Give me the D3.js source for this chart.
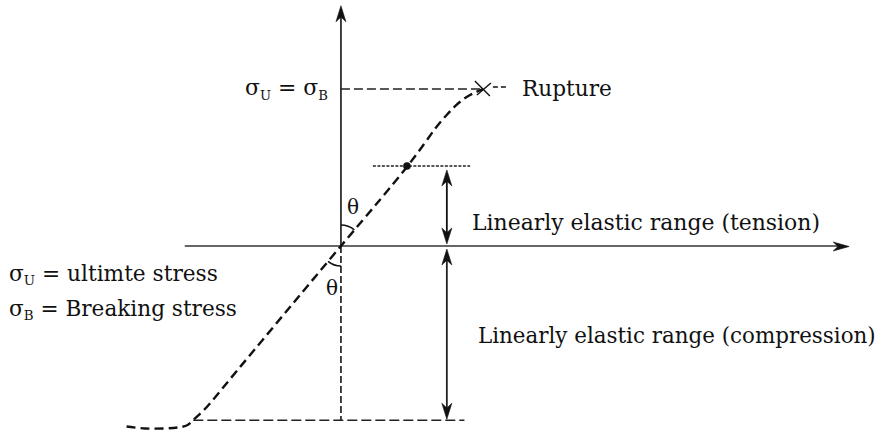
<!DOCTYPE html>
<html><head><meta charset="utf-8">
<script src="https://cdn.jsdelivr.net/npm/d3@7"></script>
<style>html,body{margin:0;padding:0;background:#fff;} svg{display:block}</style>
</head><body><svg id="c" width="884" height="432"></svg>
<script>
// ---- data (stress-strain diagram, arbitrary units: ultimate stress = 100, rupture strain = 100)
const strain = [-151, -138, -124, -115, -108, -103, -96, -71, -36, 0, 28, 47, 59, 67, 74, 81, 88, 95, 100];
const stress = [-115, -116.2, -116.2, -115.6, -114, -110, -104, -77, -39, 0, 30, 51, 65.5, 75.5, 83, 89.5, 94.6, 98, 100];
const ultimateStress = 100;
const ruptureStrain = 100;
const tensionLimit = 51;
const tensionLimitStrain = 46.5;
const compressionLimit = -111;
const strainAxisExtent = [-110, 358];
const stressAxisExtent = [-111, 153];
const tensionGuide = [22.5, 91];
const compressionGuide = [-104, 87];
const rangeArrowStrain = 74.6;
const axisLabels = ["\u03C3", "U", "B"];
const annotationTexts = ["Rupture", "Linearly elastic range (tension)", "Linearly elastic range (compression)"];
const legendTexts = [" = ultimte stress", " = Breaking stress"];
const angleLabel = "\u03B8";

const svg = d3.select("#c");
const x = d3.scaleLinear().domain([-150, 360]).range([128, 852]);
const y = d3.scaleLinear().domain([-120, 152]).range([434.4, 7.36]);
const ink = "#111";
const FONT = "DejaVu Serif";

function arrowHead(tx, ty, dx, dy, len, hw) {
  const n = Math.hypot(dx, dy); dx /= n; dy /= n;
  const bx = tx - dx * len, by = ty - dy * len;
  const px = -dy, py = dx;
  const p = d3.path();
  p.moveTo(tx, ty);
  p.lineTo(bx + px * hw, by + py * hw);
  p.lineTo(tx - dx * len * 0.7, ty - dy * len * 0.7);
  p.lineTo(bx - px * hw, by - py * hw);
  p.closePath();
  svg.append("path").attr("d", p.toString()).attr("fill", ink).attr("stroke", ink).attr("stroke-width", 0.6);
}

// ---- axes
const x0 = x(0), y0 = y(0);
svg.append("line").attr("x1", x0).attr("x2", x0).attr("y1", y0).attr("y2", y(stressAxisExtent[1]) + 6)
  .attr("stroke", "#222").attr("stroke-width", 1.7);
arrowHead(x0, y(stressAxisExtent[1]), 0, -1, 16, 5);
svg.append("line").attr("x1", x0).attr("x2", x0).attr("y1", y0).attr("y2", y(compressionLimit))
  .attr("stroke", "#222").attr("stroke-width", 1.7).attr("stroke-dasharray", "7,3");
svg.append("line").attr("x1", x(strainAxisExtent[0])).attr("x2", x(strainAxisExtent[1]) - 6).attr("y1", y0).attr("y2", y0)
  .attr("stroke", "#333").attr("stroke-width", 1.5);
arrowHead(x(strainAxisExtent[1]), y0 + 0.5, 1, 0, 16, 4.5);

// ---- guide lines
svg.append("line").attr("x1", x0).attr("x2", x(ruptureStrain)).attr("y1", y(ultimateStress)).attr("y2", y(ultimateStress))
  .attr("stroke", "#222").attr("stroke-width", 1.3).attr("stroke-dasharray", "9,4");
svg.append("line").attr("x1", x(tensionGuide[0])).attr("x2", x(tensionGuide[1])).attr("y1", y(tensionLimit)).attr("y2", y(tensionLimit))
  .attr("stroke", "#222").attr("stroke-width", 1.6).attr("stroke-dasharray", "3,1.5");
svg.append("line").attr("x1", x(compressionGuide[0])).attr("x2", x(compressionGuide[1])).attr("y1", y(compressionLimit)).attr("y2", y(compressionLimit))
  .attr("stroke", "#222").attr("stroke-width", 1.4).attr("stroke-dasharray", "10,4");

// ---- curve
const line = d3.line().x((d, i) => x(strain[i])).y((d, i) => y(stress[i])).curve(d3.curveCatmullRom.alpha(0.5));
svg.append("path").datum(strain).attr("d", line).attr("fill", "none").attr("stroke", ink)
  .attr("stroke-width", 2.4).attr("stroke-dasharray", "9,5");

// rupture cross and leader
const rx = x(ruptureStrain), ry = y(ultimateStress);
svg.append("path").attr("d", `M${rx-8},${ry-8}L${rx+7},${ry+7}M${rx-6},${ry+6}L${rx+8},${ry-6}`)
  .attr("stroke", ink).attr("stroke-width", 1.4).attr("fill", "none");
svg.append("line").attr("x1", rx + 10).attr("x2", rx + 26).attr("y1", ry - 2).attr("y2", ry - 2)
  .attr("stroke", ink).attr("stroke-width", 1.3).attr("stroke-dasharray", "5,3");

// proportional limit dot
svg.append("circle").attr("cx", x(tensionLimitStrain)).attr("cy", y(tensionLimit)).attr("r", 3.8).attr("fill", ink);

// ---- range arrows
const ax = x(rangeArrowStrain);
svg.append("line").attr("x1", ax).attr("x2", ax).attr("y1", y(tensionLimit) + 12).attr("y2", y0 - 12)
  .attr("stroke", ink).attr("stroke-width", 1.8);
arrowHead(ax, y(tensionLimit) + 4, 0, -1, 16, 5);
arrowHead(ax, y0 - 2, 0, 1, 16, 5);
svg.append("line").attr("x1", ax).attr("x2", ax).attr("y1", y0 + 12).attr("y2", y(compressionLimit) - 12)
  .attr("stroke", "#222").attr("stroke-width", 1.8);
arrowHead(ax, y0 + 3, 0, -1, 16, 5);
arrowHead(ax, y(compressionLimit) - 1, 0, 1, 16, 5);

// ---- angle arcs
const upAng = Math.atan2(x(tensionLimitStrain) - x0, y0 - y(tensionLimit));
const dnAng = Math.PI + Math.atan2(x0 - x(strain[7]), y(stress[7]) - y0);
const arcU = d3.arc().innerRadius(21).outerRadius(21).startAngle(0).endAngle(upAng);
const arcD = d3.arc().innerRadius(20).outerRadius(20).startAngle(Math.PI).endAngle(dnAng);
svg.append("path").attr("d", arcU()).attr("transform", `translate(${x0},${y0})`).attr("fill", "none").attr("stroke", ink).attr("stroke-width", 1.7);
svg.append("path").attr("d", arcD()).attr("transform", `translate(${x0},${y0})`).attr("fill", "none").attr("stroke", ink).attr("stroke-width", 1.7);

// ---- texts
function fitText(sel, targetW) {
  const w = sel.node().getComputedTextLength();
  const fs = parseFloat(sel.attr("font-size"));
  sel.attr("font-size", (fs * targetW / w).toFixed(2));
}
function label(xp, yp, txt, fs, targetW) {
  const t = svg.append("text").attr("x", xp).attr("y", yp).attr("font-family", FONT)
    .attr("font-size", fs).attr("fill", ink).text(txt);
  if (targetW) fitText(t, targetW);
  return t;
}
label(522, 96, annotationTexts[0], 19, 90);
label(472, 230, annotationTexts[1], 19, 348);
label(478, 343, annotationTexts[2], 19, 398);

function sigmaText(xp, yp, sub, rest, fs, targetW) {
  const t = svg.append("text").attr("x", xp).attr("y", yp).attr("font-family", FONT).attr("font-size", fs).attr("fill", ink);
  t.append("tspan").text(axisLabels[0]);
  t.append("tspan").attr("font-size", fs * 0.62).attr("dy", 4).text(sub);
  t.append("tspan").attr("dy", -4).text(rest);
  const w = t.node().getComputedTextLength();
  const k = targetW / w;
  t.attr("font-size", fs * k);
  t.selectAll("tspan").filter((d, i) => i === 1).attr("font-size", fs * k * 0.62);
  return t;
}
sigmaText(9, 281, axisLabels[1], legendTexts[0], 19, 209);
sigmaText(9, 316, axisLabels[2], legendTexts[1], 19, 228);

// top label sigma_U = sigma_B
const tl = svg.append("text").attr("x", 245).attr("y", 95).attr("font-family", FONT).attr("font-size", 20).attr("fill", ink);
tl.append("tspan").text(axisLabels[0]);
tl.append("tspan").attr("font-size", 12).attr("dy", 5).text(axisLabels[1]);
tl.append("tspan").attr("dy", -5).text(" = " + axisLabels[0]);
tl.append("tspan").attr("font-size", 12).attr("dy", 5).text(axisLabels[2]);
{
  const w = tl.node().getComputedTextLength();
  const k = 83 / w;
  tl.attr("font-size", 20 * k);
  tl.selectAll("tspan").filter((d, i) => i === 1 || i === 3).attr("font-size", 12 * k);
}

svg.append("text").attr("x", 353).attr("y", 214).attr("text-anchor", "middle").attr("font-family", FONT)
  .attr("font-size", 20).attr("fill", ink).text(angleLabel);
svg.append("text").attr("x", 332).attr("y", 295).attr("text-anchor", "middle").attr("font-family", FONT)
  .attr("font-size", 20).attr("fill", ink).text(angleLabel);
</script></body></html>
